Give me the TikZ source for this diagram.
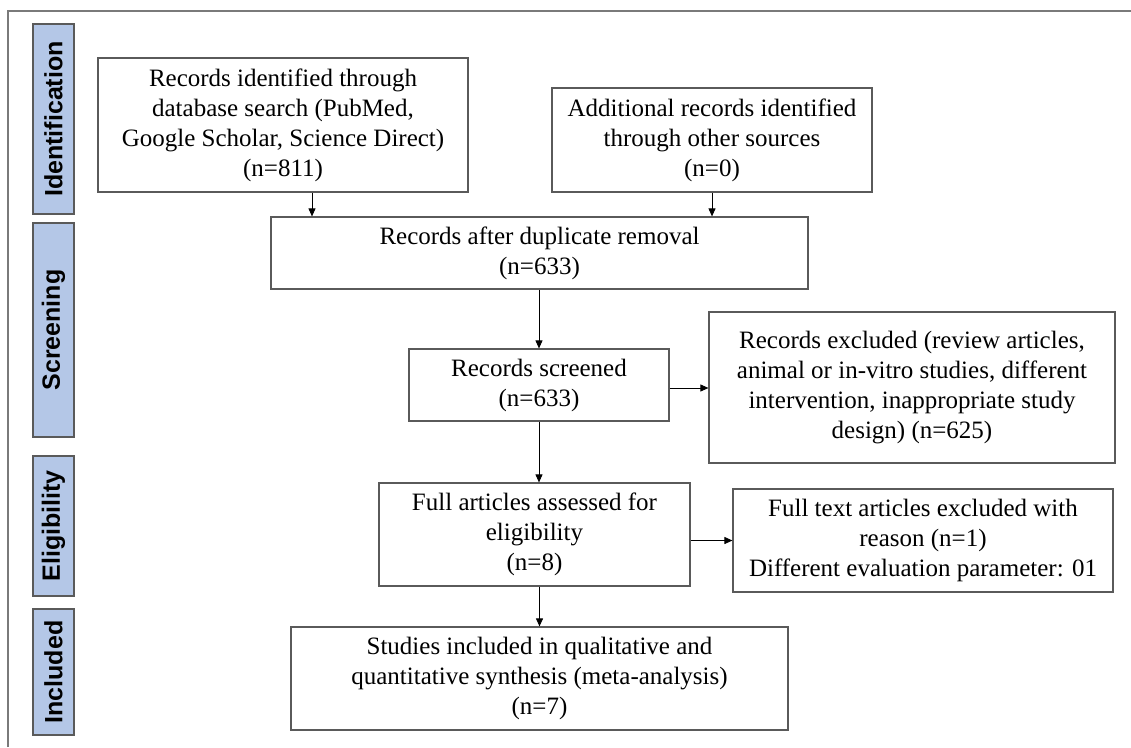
\documentclass[tikz,border=0pt]{standalone}
\usepackage{fontspec}
\setmainfont{Liberation Serif}
\newfontfamily\lsans{Liberation Sans}
\usetikzlibrary{arrows.meta}
\definecolor{phase}{HTML}{B4C7E7}
\definecolor{edge}{HTML}{5A5A5A}
\definecolor{frame}{HTML}{7A7A7A}
\begin{document}
\begin{tikzpicture}[x=1pt,y=-1pt,
  flowbox/.style={draw=edge, line width=1.2pt, fill=white, align=center, inner sep=0pt,
    font=\fontsize{25}{30}\selectfont},
  phasebox/.style={draw=edge, line width=1.2pt, fill=phase, rotate=90, inner sep=0pt,
    minimum height=41pt, font=\lsans\bfseries\fontsize{25}{30}\selectfont},
  arr/.style={draw=black, line width=0.9pt, -{Triangle[length=8pt,width=7pt]}}]
\useasboundingbox (0,0) rectangle (1131,747);
% outer frame (top and left lines)
\coordinate (fTL) at (8,11);
\coordinate (fTR) at (1131,11);
\coordinate (fBL) at (8,747);
\draw[frame, line width=1.5pt] (fBL) -- (fTL) -- (fTR);
% phase labels
\node[phasebox, minimum width=190pt] (pI) at (53.5,119) {Identification};
\node[phasebox, minimum width=214pt] (pS) at (53.5,330) {Screening};
\node[phasebox, minimum width=140pt] (pE) at (53.5,526) {Eligibility};
\node[phasebox, minimum width=126pt] (pN) at (53.5,672) {Included};
% boxes
\node[flowbox, minimum width=370pt, minimum height=134pt] (A) at (283,125)
  {Records identified through\\database search (PubMed,\\Google Scholar, Science Direct)\\(n=811)};
\node[flowbox, minimum width=320pt, minimum height=104pt] (B) at (712,140)
  {Additional records identified\\through other sources\\(n=0)};
\node[flowbox, minimum width=537pt, minimum height=72pt] (C) at (539.5,253)
  {Records after duplicate removal\\(n=633)};
\node[flowbox, minimum width=260pt, minimum height=72pt] (D) at (539,385)
  {Records screened\\(n=633)};
\node[flowbox, minimum width=406pt, minimum height=151pt] (E) at (912,387.5)
  {Records excluded (review articles,\\animal or in-vitro studies, different\\intervention, inappropriate study\\design) (n=625)};
\node[flowbox, minimum width=311pt, minimum height=103pt] (F) at (534.5,534.5)
  {Full articles assessed for\\eligibility\\(n=8)};
\node[flowbox, minimum width=380pt, minimum height=103pt] (G) at (923,540.5)
  {Full text articles excluded with\\reason (n=1)\\Different evaluation parameter: 01};
\node[flowbox, minimum width=497pt, minimum height=103pt] (H) at (539.5,678.5)
  {Studies included in qualitative and\\quantitative synthesis (meta-analysis)\\(n=7)};
% connectors
\draw[arr] ([xshift=29pt]A.south) -- ([xshift=29pt]A.south |- C.north);
\draw[arr] (B.south) -- (B.south |- C.north);
\draw[arr] (C.south -| D.north) -- (D.north);
\draw[arr] ([yshift=-3pt]D.east) -- ([yshift=-3pt]D.east -| E.west);
\draw[arr] (D.south) -- (D.south |- F.north);
\draw[arr] (G.west -| F.east) -- (G.west);
\draw[arr] (H.north |- F.south) -- (H.north);
\end{tikzpicture}
\end{document}
